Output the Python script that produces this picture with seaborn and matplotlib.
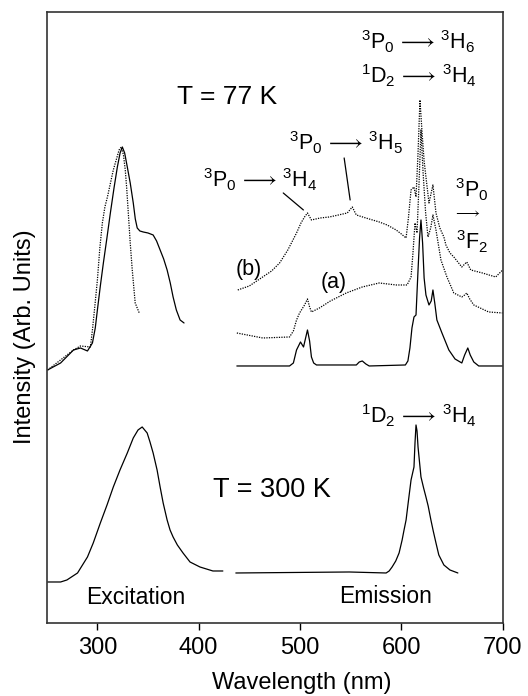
import matplotlib
matplotlib.use("Agg")
import matplotlib.pyplot as plt
import seaborn as sns

# ---------------- data (wavelength nm, intensity arb. units) ----------------
exc77_solid_x = [251, 263.8, 276.5, 283.4, 290.3, 295.2, 298, 300.1, 303, 306, 309.5, 312.9,
                 316.5, 319.8, 322.5, 324.7, 327, 329.6, 332.5, 335.5, 337.5, 339.4, 342,
                 345.3, 350, 355.1, 358.5, 362, 365.5, 368.9, 372, 374.8, 378, 381.7, 385.6]
exc77_solid_y = [253, 260, 273, 275, 272, 280, 295, 313, 337, 360, 385, 410,
                 435, 456, 470, 476, 470, 456, 440, 420, 404, 395, 392,
                 391, 390, 388, 382, 373, 364, 353, 340, 326, 313, 303, 300]

exc77_dot_x = [251, 276.5, 283.4, 293.2, 295.2, 297.5, 300.1, 302.5, 305, 307.5, 310, 313,
               315.8, 319.5, 321.5, 323.7, 325.8, 327.6, 329, 330.6, 332.5, 334.5, 337.4, 341.4]
exc77_dot_y = [253, 273, 277, 276, 293, 316, 343, 375, 400, 416, 426, 440,
               453, 466, 473, 476, 468, 453, 435, 410, 380, 353, 320, 310]

em77_solid_x = [437.7, 489.7, 493.5, 496.6, 500.5, 503.5, 507.4, 509.5, 511.3, 513.5, 516.3,
                555.6, 558.5, 561.5, 565, 568.3, 604, 606.5, 608.5, 610.5, 612.5, 614.5, 616.5,
                618, 619.4, 621, 622.5, 624.3, 627.3, 629.5, 631.2, 633, 635.1, 640.1,
                646.9, 653, 659.7, 662.5, 665.6, 668, 671.5, 676.4, 700]
em77_solid_y = [257, 257, 260, 273, 281, 276, 293, 282, 266, 260, 258,
                258, 261, 262, 259, 257, 258, 262, 275, 295, 306, 308, 353,
                385, 403, 380, 345, 328, 318, 322, 333, 320, 303, 290,
                273, 264, 260, 268, 275, 268, 261, 257, 257]

em77_a_x = [437.7, 463.2, 489.7, 493.5, 496.6, 499.6, 504.5, 507.4, 509.5, 511.3, 519.2,
            530, 545.7, 561.5, 578.2, 595, 605.7, 609.6, 611.5, 613.5, 615.5, 617.5, 619.4,
            621.5, 624, 626.3, 629, 631.2, 634.2, 639.1, 645, 651.8, 659.7, 662.5, 664.6,
            667.5, 671.5, 686.2, 700]
em77_a_y = [290, 285, 286, 292, 303, 310, 318, 324, 316, 311, 315,
            322, 330, 336, 340, 338, 338, 346, 370, 400, 390, 440, 493,
            450, 410, 386, 395, 408, 393, 363, 346, 330, 326, 328, 330,
            324, 318, 311, 310]

em77_b_x = [438.6, 450, 463.2, 472, 479.9, 488, 496.6, 501, 504.5, 507.4, 511.3, 520,
            529, 538, 546.7, 551.6, 555.6, 565, 578.2, 586, 594.9, 600, 604.7, 607, 609.6,
            612.5, 614.5, 616.5, 618.4, 620.5, 622.5, 624.3, 627.3, 631.2, 634.2, 638,
            642, 644, 648, 651.8, 659.7, 664.6, 668.5, 680, 693.1, 700]
em77_b_y = [333, 337, 346, 352, 360, 373, 390, 400, 406, 410, 403, 405,
            406, 408, 410, 416, 408, 405, 401, 398, 393, 389, 385, 405, 433,
            436, 426, 470, 523, 490, 462, 446, 420, 438, 410, 395,
            386, 378, 370, 366, 356, 361, 353, 350, 346, 353]

exc300_x = [251, 263.8, 270, 280.5, 290.3, 296, 303, 309.6, 315.8, 322.4, 329.6, 335.5,
            340.2, 344.3, 349.2, 352, 355.1, 359, 362, 365, 368.9, 371.8, 374.8, 379,
            384.6, 391.5, 401.3, 414.1, 423.9]
exc300_y = [41, 41, 43, 50, 66, 80, 100, 118, 136, 153, 170, 185,
            193, 196, 190, 181, 170, 153, 136, 120, 103, 93, 86, 78,
            70, 61, 56, 52, 52]

em300_x = [436.7, 548.7, 585, 588, 590.9, 594.5, 597.8, 600.8, 602.5, 604.7, 607, 609.6,
           612.5, 613.5, 614.5, 615.5, 616.5, 619.4, 622, 624.3, 626.5, 629.2, 631.5,
           634.2, 637, 642, 648, 655.8]
em300_y = [50, 51, 50, 52, 56, 62, 70, 83, 92, 103, 122, 143,
           156, 180, 198, 192, 176, 146, 135, 126, 117, 103, 92,
           80, 68, 58, 53, 50]

x_ticks = [300, 400, 500, 600, 700]
x_label = "Wavelength (nm)"
y_label = "Intensity (Arb. Units)"

# ---------------- style ----------------
sns.set_theme(style="white")
plt.rcParams["font.family"] = ["Liberation Sans", "DejaVu Sans"]
plt.rcParams["mathtext.fontset"] = "custom"
plt.rcParams["mathtext.rm"] = "Liberation Sans"
plt.rcParams["mathtext.it"] = "Liberation Sans:italic"
plt.rcParams["mathtext.bf"] = "Liberation Sans:bold"

fig = plt.figure(figsize=(5.28, 6.96), dpi=100)
ax = fig.add_axes([0.0883, 0.1049, 0.8637, 0.8779])

solid_kw = dict(color="black", lw=0.9, sort=False, estimator=None)
dot_kw = dict(color="black", lw=0.9, sort=False, estimator=None, linestyle=(0, (1, 1)))

sns.lineplot(x=exc77_solid_x, y=exc77_solid_y, ax=ax, **solid_kw)
sns.lineplot(x=exc77_dot_x, y=exc77_dot_y, ax=ax, **dot_kw)
sns.lineplot(x=em77_solid_x, y=em77_solid_y, ax=ax, **solid_kw)
sns.lineplot(x=em77_a_x, y=em77_a_y, ax=ax, **dot_kw)
sns.lineplot(x=em77_b_x, y=em77_b_y, ax=ax, **dot_kw)
sns.lineplot(x=exc300_x, y=exc300_y, ax=ax, **solid_kw)
sns.lineplot(x=em300_x, y=em300_y, ax=ax, **solid_kw)

ax.set_xlim(250, 700)
ax.set_ylim(0, 611)
ax.set_xticks(x_ticks)
ax.set_xticklabels([str(t) for t in x_ticks])
ax.set_yticks([])
ax.tick_params(axis="x", direction="out", length=5, width=1, pad=5,
               labelsize=17, colors="black", bottom=True)
for s in ax.spines.values():
    s.set_color("#333333")
    s.set_linewidth(1.2)

ax.set_xlabel(x_label, fontsize=17, color="black")
ax.xaxis.set_label_coords(0.56, -0.080)
ax.set_ylabel(y_label, fontsize=17, color="black")
ax.yaxis.set_label_coords(-0.024, 0.468)

tk = dict(color="black", ha="center", va="center")
ax.text(428, 526, "T = 77 K", fontsize=19, **tk)
ax.text(472.6, 133, "T = 300 K", fontsize=19.5, **tk)
ax.text(338, 25, "Excitation", fontsize=16.5, **tk)
ax.text(584, 26, "Emission", fontsize=16.5, **tk)

arr = r"$\,\longrightarrow\,$"
fs = 15.5
ax.text(616.5, 581, r"$^3$P$_0$" + arr + r"$^3$H$_6$", fontsize=fs, **tk)
ax.text(617, 547, r"$^1$D$_2$" + arr + r"$^3$H$_4$", fontsize=fs, **tk)
ax.text(545.5, 480, r"$^3$P$_0$" + arr + r"$^3$H$_5$", fontsize=fs, **tk)
ax.text(460.6, 443, r"$^3$P$_0$" + arr + r"$^3$H$_4$", fontsize=fs, **tk)
ax.text(670, 433, r"$^3$P$_0$", fontsize=fs, **tk)
ax.text(665, 410, r"$\longrightarrow$", fontsize=11, **tk)
ax.text(670, 381, r"$^3$F$_2$", fontsize=fs, **tk)
ax.text(449, 353, "(b)", fontsize=15.5, **tk)
ax.text(533.7, 340, "(a)", fontsize=15.5, **tk)
ax.text(617.5, 207, r"$^1$D$_2$" + arr + r"$^3$H$_4$", fontsize=fs, **tk)

# pointer lines
ax.plot([483.5, 503.4], [430, 413], color="black", lw=0.9)
ax.plot([543.6, 549.5], [465, 423], color="black", lw=0.9)

fig.savefig("out.png", dpi=100)
